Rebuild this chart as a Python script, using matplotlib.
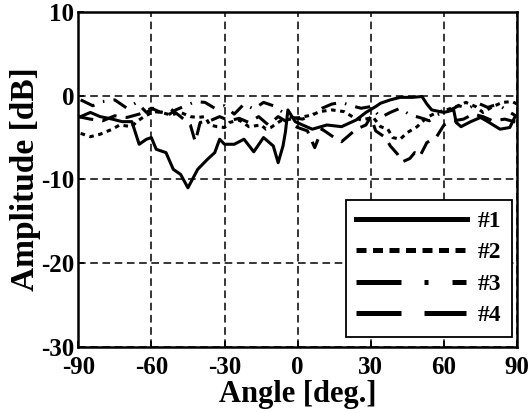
import matplotlib
matplotlib.use("Agg")
import matplotlib.pyplot as plt
from matplotlib.lines import Line2D

plt.rcParams['font.family'] = 'Liberation Serif'
plt.rcParams['font.weight'] = 'bold'
plt.rcParams['axes.unicode_minus'] = False

##### Data
ang1 = [-89, -85, -81, -76, -72, -68, -65, -62, -60, -58, -54, -51, -48, -45, -41, -37, -34, -32, -30,
        -26, -22, -18, -14, -10, -8, -6, -5, -4, -1, 2, 6, 12, 18, 24, 28, 32, 34, 38, 42, 47, 51, 53,
        55, 60, 64, 65, 67, 71, 75, 78, 83, 87, 89]
amp1 = [-2.5, -2.0, -2.5, -2.8, -3.1, -3.1, -5.8, -5.2, -5.0, -6.4, -6.8, -8.8, -9.4, -11.0, -8.8,
        -7.6, -6.8, -5.2, -5.8, -5.8, -5.2, -6.7, -5.0, -6.0, -8.0, -6.0, -4.3, -1.7, -3.1, -3.5,
        -4.0, -3.5, -3.7, -2.9, -2.0, -1.3, -0.9, -0.5, -0.2, -0.2, -0.1, -1.0, -1.7, -2.0, -1.7,
        -3.2, -3.7, -3.1, -2.6, -3.1, -4.0, -3.8, -2.6]

ang2 = [-89, -85, -81, -76, -73, -68, -66, -63, -59, -56, -52, -48, -44, -41, -38, -36, -33, -30,
        -28, -24, -20, -15, -13, -11, -7, -3, 1, 6, 9, 14, 19, 23, 26, 31, 34, 37, 39, 42, 45, 49,
        53, 57, 61, 65, 69, 73, 76, 80, 84, 88, 90]
amp2 = [-4.5, -4.9, -4.6, -4.0, -3.5, -3.7, -3.1, -2.5, -1.9, -2.0, -2.3, -2.0, -2.5, -2.6, -2.5,
        -3.5, -3.7, -3.8, -3.2, -2.9, -3.7, -3.5, -4.0, -3.8, -3.0, -2.8, -2.6, -2.3, -1.9, -1.7,
        -1.9, -2.6, -2.9, -2.6, -3.7, -4.0, -5.0, -5.2, -4.4, -3.7, -2.6, -2.0, -1.7, -1.3, -0.8,
        -1.3, -2.0, -1.3, -0.8, -0.7, -1.0]

ang3 = [-89, -84, -80, -75, -70, -66, -62, -58, -54, -50, -46, -42, -38, -34, -30, -26, -22, -18,
        -14, -10, -6, -2, 2, 6, 10, 14, 18, 22, 26, 30, 34, 38, 42, 46, 50, 54, 58, 62, 66, 70, 74,
        78, 82, 86, 90]
amp3 = [-0.5, -1.2, -0.7, -0.5, -1.5, -0.8, -2.0, -1.3, -2.5, -1.7, -1.2, -0.7, -0.8, -1.5, -1.2,
        -2.2, -1.0, -1.6, -0.8, -1.2, -2.0, -2.6, -2.8, -2.3, -1.5, -1.0, -0.8, -1.2, -1.5, -1.3,
        -2.6, -2.0, -1.5, -2.3, -2.6, -3.0, -2.2, -1.8, -1.2, -1.5, -0.9, -1.4, -1.0, -1.8, -2.5]

ang4 = [-90, -85, -80, -75, -70, -65, -60, -56, -52, -48, -44, -42, -40, -36, -32, -28, -24, -20,
        -16, -12, -8, -4, 0, 4, 7, 10, 14, 18, 24, 28, 30, 32, 36, 38, 41, 43, 46, 48, 50, 53, 57,
        60, 64, 68, 72, 76, 80, 85, 90]
amp4 = [-2.5, -2.8, -3.0, -2.4, -2.6, -2.2, -1.5, -2.0, -1.6, -2.5, -3.5, -5.5, -3.2, -3.0, -2.5,
        -3.0, -2.7, -3.2, -2.5, -3.5, -2.5, -3.2, -3.8, -4.2, -6.2, -4.0, -4.8, -5.5, -4.0, -3.5,
        -2.5, -4.2, -5.0, -6.0, -7.0, -7.9, -7.5, -6.8, -7.3, -5.6, -4.9, -3.5, -3.0, -2.8, -2.2,
        -2.5, -3.0, -2.8, -3.2]

labels = ['#1', '#2', '#3', '#4']
xticks = [-90, -60, -30, 0, 30, 60, 90]
yticks = [-30, -20, -10, 0, 10]

fig = plt.figure(figsize=(5.32, 4.12), dpi=100)
ax = fig.add_axes([0.147, 0.158, 0.825, 0.813])

lw = 2.2
ax.plot(ang1, amp1, color='black', lw=lw, ls='-')
ax.plot(ang2, amp2, color='black', lw=lw, ls=(0, (1.5, 1.5)))
ax.plot(ang3, amp3, color='black', lw=lw, ls=(0, (5, 3, 0.5, 3)))
ax.plot(ang4, amp4, color='black', lw=lw, ls=(0, (5, 3)))

ax.set_xlim(-90, 90)
ax.set_ylim(-30, 10)
ax.set_xticks(xticks)
ax.set_yticks(yticks)
ax.grid(True, color='black', ls=(0, (5, 3)), lw=1.1)
ax.tick_params(direction='in', length=4, width=1.2, labelsize=18)
ax.tick_params(axis='x', pad=6.5)
ax.tick_params(axis='y', pad=3)
for s in ax.spines.values():
    s.set_linewidth(1.8)

ax.set_xlabel("Angle [deg.]", fontsize=22, fontweight='bold', labelpad=0.5)
ax.set_ylabel("Amplitude [dB]", fontsize=24, fontweight='bold', labelpad=0)

##### legend handles use the longer dash patterns shown in the key
hlw = 3.6
handles = [Line2D([], [], color='black', lw=hlw, ls='-'),
           Line2D([], [], color='black', lw=hlw, ls=(0, (2.0, 1.3))),
           Line2D([], [], color='black', lw=hlw, ls=(0, (9, 4.6, 0.8, 4.8, 2.8, 40))),
           Line2D([], [], color='black', lw=hlw, ls=(0, (9, 4.6, 8.4, 40)))]
leg = ax.legend(handles, labels, loc='lower right', fontsize=17, handlelength=4.7,
                labelspacing=0.42, borderpad=0.45, handletextpad=0.45, borderaxespad=0,
                fancybox=False, framealpha=1, edgecolor='black',
                bbox_to_anchor=(0.989, 0.03))
leg.get_frame().set_linewidth(1.3)

fig.savefig("out.png", dpi=100)
